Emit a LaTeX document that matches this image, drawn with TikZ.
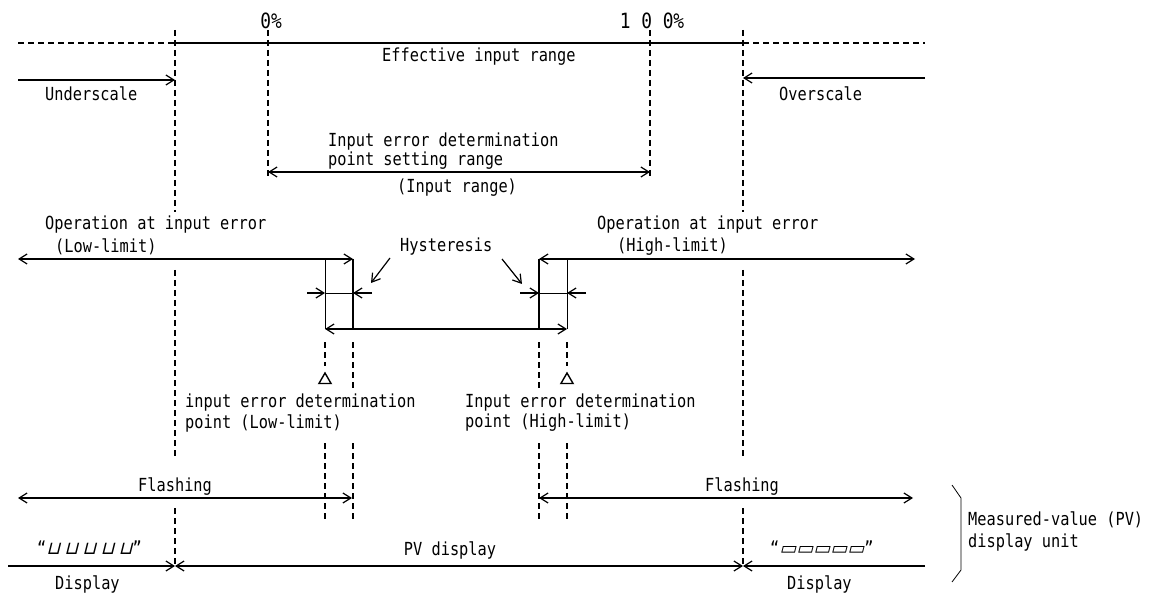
\documentclass[tikz,border=0pt]{standalone}
\usepackage{fontspec}
\setmainfont[FakeStretch=0.85]{DejaVu Sans Mono}
\newfontfamily\segfont[FakeSlant=0.25]{DejaVu Sans}
\usetikzlibrary{arrows.meta,shapes.geometric}

\begin{document}
\begin{tikzpicture}[
    x=1pt, y=-1pt,
    font=\fontsize{18}{20}\selectfont,
    lbl/.style={anchor=west, inner sep=0pt},
    pct/.style={font=\fontsize{21}{23}\selectfont},
    solidline/.style={line width=1.3pt},
    thinline/.style={line width=0.8pt},
    guide/.style={line width=1.1pt, dash pattern=on 6pt off 4pt},
    barb/.tip={Straight Barb[length=8pt,width=10pt]},
    arrow/.style={line width=1.2pt, -barb},
    twoway/.style={line width=1.2pt, barb-barb},
    marker/.style={regular polygon, regular polygon sides=3, draw, line width=1.4pt, minimum size=14pt, inner sep=0pt}
]
    \useasboundingbox (0,0) rectangle (1153,593);

    % vertical guide lines
    \foreach \x/\ya/\yb in {175/30/212, 175/270/457, 175/508/566,
                            743/30/212, 743/270/457, 743/508/566,
                            268/30/178, 650/30/178,
                            325/342/366, 353/342/388, 539/342/388, 567/342/366,
                            325/443/520, 353/443/520, 539/443/520, 567/443/520}
        \draw[guide] (\x,\ya) -- (\x,\yb);

    % top: effective input range
    \coordinate (topL) at (18,43);
    \coordinate (topA) at (175,43);
    \coordinate (topB) at (743,43);
    \coordinate (topR) at (925,43);
    \draw[guide] (topL) -- (topA);
    \draw[solidline] (topA) -- (topB);
    \draw[guide] (topB) -- (topR);
    \node[pct] (zero) at (271,21) {0\%};
    \node[pct] (hundred) at (652,21) {1 0 0\%};
    \node[lbl] (effective) at (382,57) {Effective input range};

    % underscale / overscale
    \coordinate (undS) at (18,80);
    \coordinate (undE) at (175,80);
    \coordinate (ovrS) at (925,78);
    \coordinate (ovrE) at (743,78);
    \draw[arrow] (undS) -- (undE);
    \draw[arrow] (ovrS) -- (ovrE);
    \node[lbl] (under) at (45,94) {Underscale};
    \node[lbl] (over) at (779,94) {Overscale};

    % setting range
    \coordinate (rngL) at (268,172);
    \coordinate (rngR) at (650,172);
    \draw[twoway] (rngL) -- (rngR);
    \node[lbl] (set1) at (328,142) {Input error determination};
    \node[lbl] (set2) at (328,161) {point setting range};
    \node[lbl] (set3) at (397,188) {(Input range)};

    % operation at input error
    \coordinate (opLa) at (18,259);
    \coordinate (opLb) at (353,259);
    \coordinate (opHa) at (539,259);
    \coordinate (opHb) at (915,259);
    \draw[twoway] (opLa) -- (opLb);
    \draw[twoway] (opHa) -- (opHb);
    \node[lbl] (opL1) at (45,225) {Operation at input error};
    \node[lbl] (opL2) at (55,247) {(Low-limit)};
    \node[lbl] (opH1) at (597,225) {Operation at input error};
    \node[lbl] (opH2) at (617,247) {(High-limit)};

    % hysteresis bands
    \coordinate (lo1t) at (325,259);
    \coordinate (lo1b) at (325,329);
    \coordinate (lo2b) at (353,329);
    \coordinate (hi1b) at (539,329);
    \coordinate (hi2t) at (567,259);
    \coordinate (hi2b) at (567,329);
    \draw[thinline] (lo1t) -- (lo1b);
    \draw[solidline] (opLb) -- (lo2b);
    \draw[solidline] (opHa) -- (hi1b);
    \draw[thinline] (hi2t) -- (hi2b);
    \draw[twoway] (lo1b) -- (hi2b);

    \coordinate (hlA) at (307,293);
    \coordinate (hlB) at (325,293);
    \coordinate (hlC) at (353,293);
    \coordinate (hlD) at (372,293);
    \coordinate (hhA) at (520,293);
    \coordinate (hhB) at (539,293);
    \coordinate (hhC) at (567,293);
    \coordinate (hhD) at (586,293);
    \draw[arrow] (hlA) -- (hlB);
    \draw[thinline] (hlB) -- (hlC);
    \draw[arrow] (hlD) -- (hlC);
    \draw[arrow] (hhA) -- (hhB);
    \draw[thinline] (hhB) -- (hhC);
    \draw[arrow] (hhD) -- (hhC);

    \node[lbl] (hyst) at (400,247) {Hysteresis};
    \coordinate (hpL) at (390,258);
    \coordinate (hqL) at (371,283);
    \coordinate (hpR) at (502,259);
    \coordinate (hqR) at (522,284);
    \draw[arrow] (hpL) -- (hqL);
    \draw[arrow] (hpR) -- (hqR);

    % determination points
    \node[marker] (triL) at (325,380) {};
    \node[marker] (triH) at (567,380) {};
    \node[lbl] (ptL1) at (185,403) {input error determination};
    \node[lbl] (ptL2) at (185,423) {point (Low-limit)};
    \node[lbl] (ptH1) at (465,403) {Input error determination};
    \node[lbl] (ptH2) at (465,423) {point (High-limit)};

    % flashing
    \coordinate (flLa) at (18,498);
    \coordinate (flLb) at (352,498);
    \coordinate (flHa) at (539,498);
    \coordinate (flHb) at (913,498);
    \draw[twoway] (flLa) -- (flLb);
    \draw[twoway] (flHa) -- (flHb);
    \node[lbl] (flashL) at (138,487) {Flashing};
    \node[lbl] (flashH) at (705,487) {Flashing};

    % display row
    \coordinate (dsL) at (8,566);
    \coordinate (dsA) at (175,566);
    \coordinate (dsB) at (743,566);
    \coordinate (dsR) at (925,566);
    \draw[arrow] (dsL) -- (dsA);
    \draw[twoway] (dsA) -- (dsB);
    \draw[arrow] (dsR) -- (dsB);
    \node[lbl] (segL) at (37,548) {“{\segfont ⊔\hspace{4pt}⊔\hspace{4pt}⊔\hspace{4pt}⊔\hspace{4pt}⊔}”};
    \node[lbl] (segR) at (770,548) {“{\segfont ▭▭▭▭▭}”};
    \node (pvdisp) at (450,550) {PV display};
    \node[lbl] (dispL) at (55,584) {Display};
    \node[lbl] (dispR) at (787,584) {Display};

    % display unit bracket
    \coordinate (brA) at (952,485);
    \coordinate (brB) at (961,498);
    \coordinate (brC) at (961,570);
    \coordinate (brD) at (952,582);
    \draw[thinline] (brA) -- (brB) -- (brC) -- (brD);
    \node[lbl] (unit1) at (968,520) {Measured-value (PV)};
    \node[lbl] (unit2) at (968,542) {display unit};
\end{tikzpicture}
\end{document}
